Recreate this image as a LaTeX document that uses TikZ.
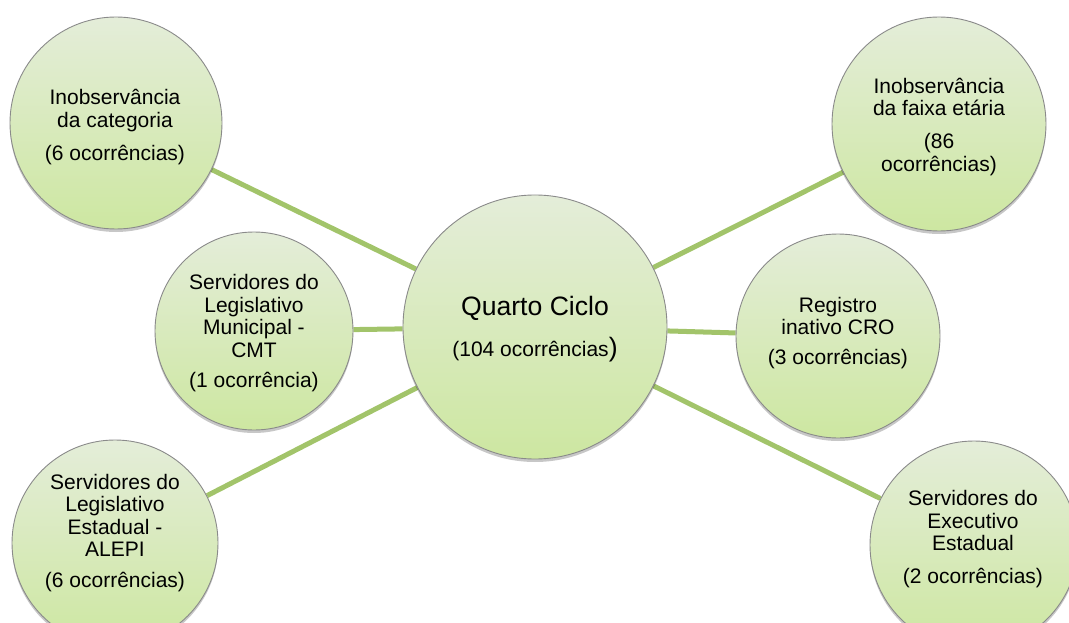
\documentclass[tikz,border=0pt]{standalone}
\usepackage{fontspec}
\setmainfont{Liberation Sans}
\usetikzlibrary{shadows,backgrounds}
\definecolor{linkgreen}{HTML}{A2C46A}
\definecolor{topfill}{HTML}{E4EDD9}
\definecolor{botfill}{HTML}{CDE7A1}
\definecolor{rim}{HTML}{8A8A8A}
\begin{document}
\begin{tikzpicture}[x=1pt,y=-1pt,
  bubble/.style={circle, draw=rim, line width=0.9pt, top color=topfill, bottom color=botfill,
    inner sep=0pt, minimum size=#1,
    drop shadow={shadow xshift=0pt, shadow yshift=-3pt, opacity=0.22, fill=black}},
  txt/.style={align=center, inner sep=0pt, font=\fontsize{21}{22.5}\selectfont},
  link/.style={draw=linkgreen, line width=5pt}]
\useasboundingbox (0,0) rectangle (1069,623);
\clip (0,0) rectangle (1069,623);

% circles
\node[bubble=212] (tl) at (116,123) {};
\node[bubble=214] (tr) at (939,124) {};
\node[bubble=198] (ml) at (254,331) {};
\node[bubble=264] (c)  at (535,327) {};
\node[bubble=204] (mr) at (838,336) {};
\node[bubble=206] (bl) at (115,543) {};
\node[bubble=208] (br) at (974,545) {};

% connectors
\begin{scope}[on background layer]
\draw[link] (c) -- (tl);
\draw[link] (c) -- (tr);
\draw[link] (c) -- (ml);
\draw[link] (c) -- (mr);
\draw[link] (c) -- (bl);
\draw[link] (c) -- (br);
\end{scope}

% texts
\node[txt] (tlt) at (115,127) {Inobservância\\da categoria\\[10.5pt](6 ocorrências)};
\node[txt] (trt) at (939,127) {Inobservância\\da faixa etária\\[10.5pt](86\\ocorrências)};
\node[txt] (mlt) at (254,333) {Servidores do\\Legislativo\\Municipal -\\CMT\\[7.5pt](1 ocorrência)};
\node[txt] (ct)  at (535,329) {{\fontsize{26.6}{28}\selectfont Quarto Ciclo}\\[15pt](104 ocorrências{\fontsize{26.6}{28}\selectfont)}};
\node[txt] (mrt) at (838,333) {Registro\\inativo CRO\\[7.5pt](3 ocorrências)};
\node[txt] (blt) at (115,533) {Servidores do\\Legislativo\\Estadual -\\ALEPI\\[8.5pt](6 ocorrências)};
\node[txt] (brt) at (973,539) {Servidores do\\Executivo\\Estadual\\[10pt](2 ocorrências)};
\end{tikzpicture}
\end{document}
